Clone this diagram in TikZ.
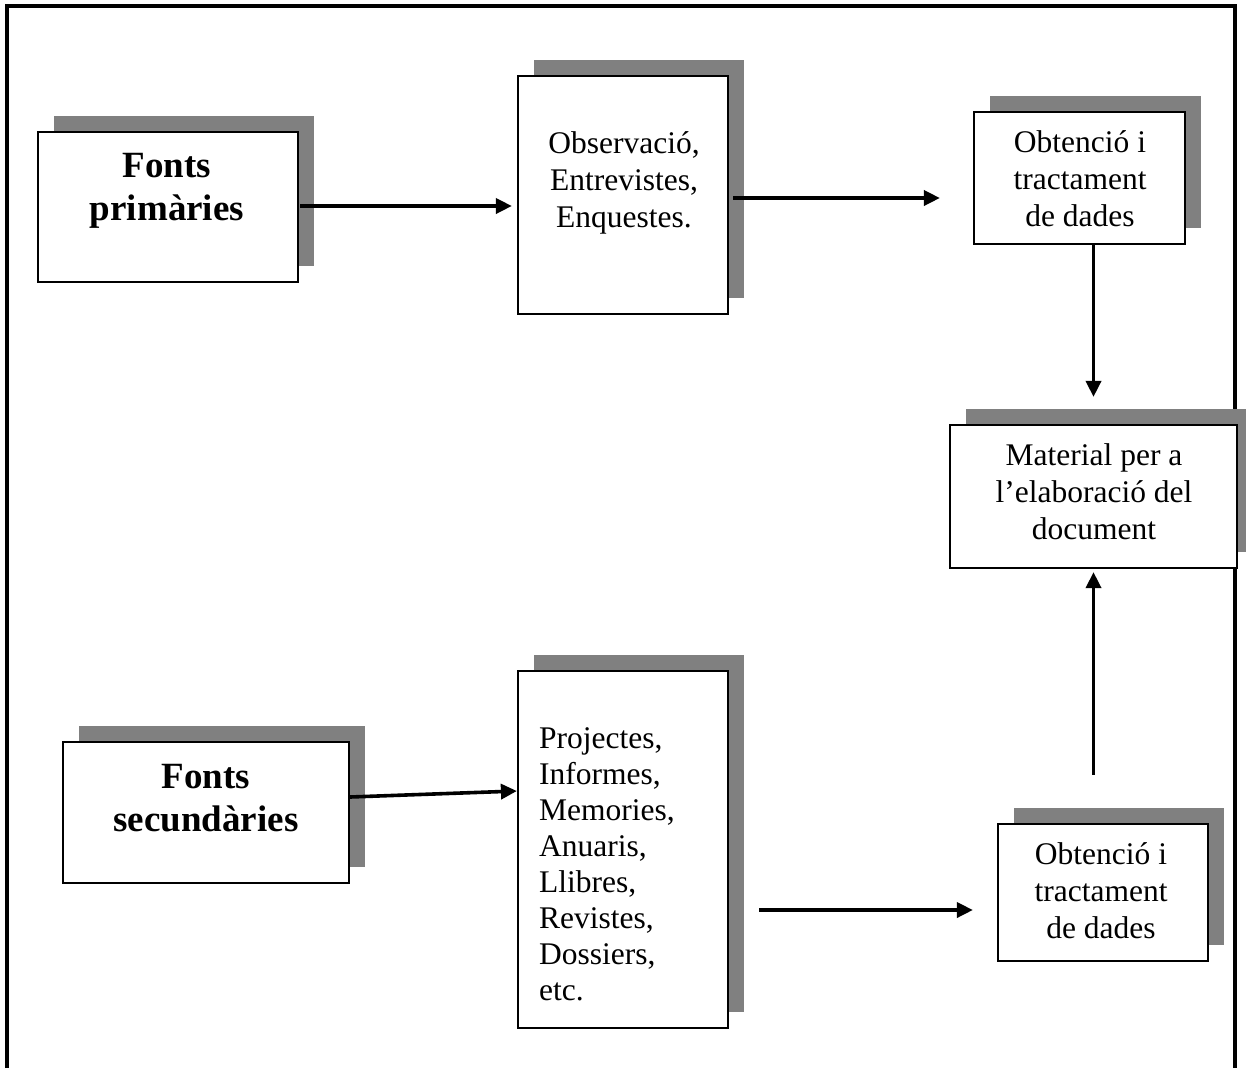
\documentclass[tikz,border=0pt]{standalone}
\usepackage{fontspec}
\setmainfont{Liberation Serif}
\usetikzlibrary{arrows.meta,shadows}
\definecolor{shadowgray}{RGB}{128,128,128}
\begin{document}
\begin{tikzpicture}[x=1pt,y=-1pt,
  box/.style={draw=black,line width=2.2pt,fill=white,inner sep=0pt,
    drop shadow={shadow xshift=16pt,shadow yshift=16pt,fill=shadowgray,opacity=1}},
  reg/.style={font=\fontsize{31.5}{37}\selectfont,align=center,inner sep=0pt},
  regl/.style={font=\fontsize{31.5}{36}\selectfont,align=left,inner sep=0pt,anchor=west},
  bld/.style={font=\fontsize{37}{43}\selectfont\bfseries,align=center,inner sep=0pt},
  arr/.style={line width=3.6pt,-{Triangle[length=16pt,width=15pt]}},
  frameline/.style={line width=3.2pt}]
\useasboundingbox (0,0) rectangle (1246,1068);
\clip (0,0) rectangle (1246,1068);

% open frame
\draw[frameline] (7,1068) -- (7,6) -- (1235,6) -- (1235,1068);

% boxes
\node[box,minimum width=260pt,minimum height=150pt] (b1) at (168,207) {};
\node[box,minimum width=210pt,minimum height=238pt] (b2) at (623,195) {};
\node[box,minimum width=211pt,minimum height=132pt] (b3) at (1079.5,178) {};
\node[box,minimum width=287pt,minimum height=143pt] (b4) at (1093.5,496.5) {};
\node[box,minimum width=286pt,minimum height=141pt] (b5) at (206,812.5) {};
\node[box,minimum width=210pt,minimum height=357pt] (b6) at (623,849.5) {};
\node[box,minimum width=210pt,minimum height=137pt] (b7) at (1103,892.5) {};

% texts
\node[bld] (t1) at (167,191) {Fonts\\primàries};
\node[reg] (t2) at (624,183) {Observació,\\Entrevistes,\\Enquestes.};
\node[reg] (t3) at (1080,179) {Obtenció i\\tractament\\de dades};
\node[reg] (t4) at (1094,492) {Material per a\\l’elaboració del\\document};
\node[bld] (t5) at (206,798) {Fonts\\secundàries};
\node[regl] (t6) at (539,864) {Projectes,\\Informes,\\Memories,\\Anuaris,\\Llibres,\\Revistes,\\Dossiers,\\etc.};
\node[reg] (t7) at (1101,891) {Obtenció i\\tractament\\de dades};

% connectors
\draw[arr,shorten <=1pt,shorten >=5pt] ([yshift=1pt]b1.east) -- ([yshift=1pt]b1.east -| b2.west);
\draw[arr,shorten <=4pt,shorten >=33pt] ([yshift=-3pt]b2.east) -- ([yshift=-3pt]b2.east -| b3.west);
\draw[arr,shorten >=27pt] (b3.south -| b4.north) -- (b4.north);
\draw[arr,shorten <=48pt,shorten >=3pt] (b7.north -| b4.south) -- (b4.south);
\draw[arr] ([yshift=15.5pt]b5.east) -- ([yshift=58.5pt]b6.west);
\draw[arr,shorten <=30pt,shorten >=24pt] ([yshift=-60.5pt]b6.east) -- ([yshift=-60.5pt]b6.east -| b7.west);
\end{tikzpicture}
\end{document}
